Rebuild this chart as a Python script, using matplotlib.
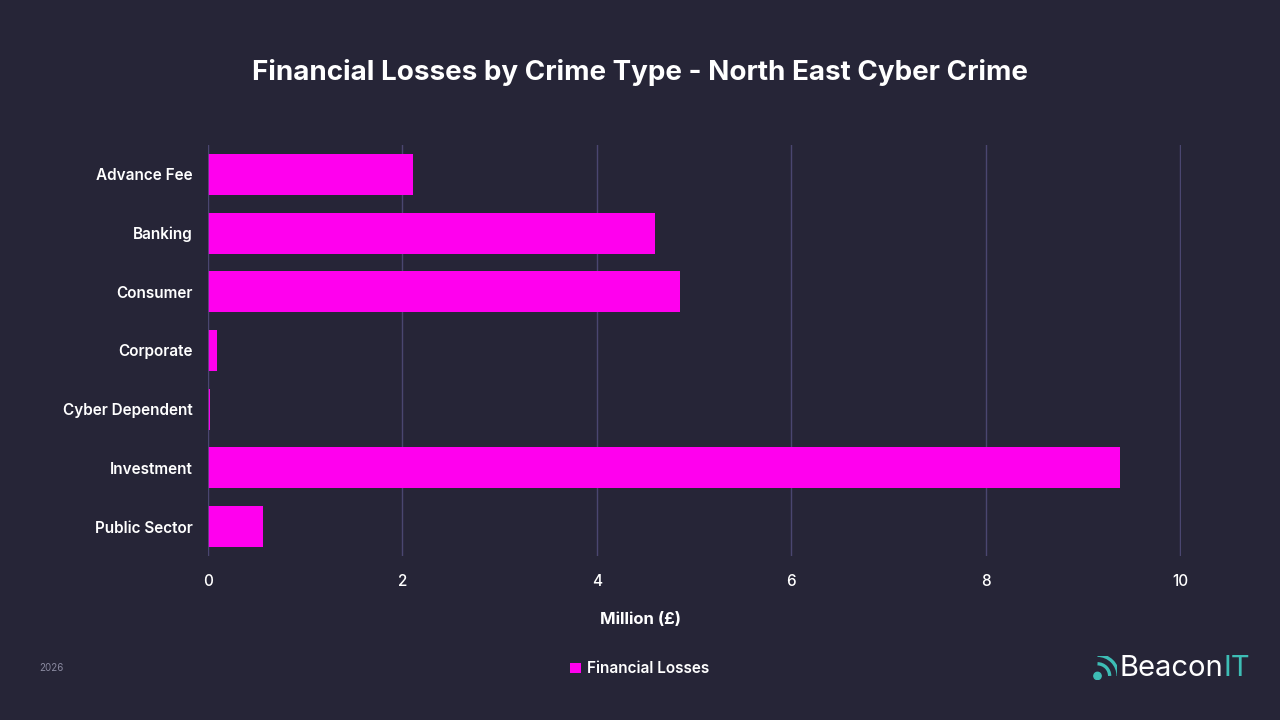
import numpy as np
import matplotlib.pyplot as plt
from matplotlib.patches import Arc, Circle

# DANE
categories = ["Advance Fee", "Banking", "Consumer", "Corporate",
              "Cyber Dependent", "Investment", "Public Sector"]
losses = [2.11, 4.60, 4.86, 0.09, 0.02, 9.38, 0.565]
x_ticks = [0, 2, 4, 6, 8, 10]

BG = "#262537"
MAGENTA = "#ff00ee"
GRID = "#4a4670"
TEAL = "#3dbdb5"

plt.rcParams['font.family'] = ['Inter', 'DejaVu Sans']

fig = plt.figure(figsize=(12.8, 7.2), dpi=100, facecolor=BG)
ax = fig.add_axes([0.1625, 0.2278, 0.9227 - 0.1625, 0.7986 - 0.2278])
ax.set_facecolor(BG)

y = np.arange(len(categories))
ax.barh(y, losses, height=0.7, color=MAGENTA, label="Financial Losses", zorder=3)
ax.set_ylim(len(categories) - 0.5, -0.5)
ax.set_xlim(0, 10.01)
ax.set_yticks(y)
ax.set_yticklabels(categories, fontsize=11, fontweight=600, color='white')
ax.set_xticks(x_ticks)
ax.set_xticklabels([str(t) for t in x_ticks], fontsize=11, fontweight=500, color='white')
ax.tick_params(axis='y', length=0, pad=11)
ax.tick_params(axis='x', length=0, pad=13)

ax.grid(axis='x', color=GRID, linewidth=1, zorder=0)
for s in ax.spines.values():
    s.set_visible(False)
ax.axvline(0, color=GRID, linewidth=1.2, zorder=4)

# opis osi x - wyśrodkowany na całej figurze
fig.text(0.5, 1 - 619 / 720, "Million (£)", ha='center', va='center',
         fontsize=12, fontweight='bold', color='white')

fig.text(0.5, 0.9, "Financial Losses by Crime Type - North East Cyber Crime",
         ha='center', va='center', fontsize=20, fontweight='bold', color='white')

# legenda
leg = fig.legend(loc='center', bbox_to_anchor=(0.5, 0.071), frameon=False,
                 fontsize=11, handlelength=0.7, handleheight=0.7, handletextpad=0.4,
                 labelcolor='white', prop={'weight': 600, 'size': 11})

fig.text(0.031, 0.072, "2026", fontsize=7, color='#8a8aa0', va='center')

# logo
t = fig.text(0.875, 0.072, "Beacon", fontsize=21, color='white', va='center')
ax.annotate("IT", xy=(1, 0), xycoords=t, va='bottom', ha='left',
            fontsize=21, color=TEAL)
icon = fig.add_axes([0.854, 0.055, 0.019, 0.034])
icon.set_xlim(0, 1)
icon.set_ylim(0, 1)
icon.set_aspect('equal')
icon.axis('off')
icon.add_patch(Circle((0.18, 0.18), 0.15, color=TEAL))
for r in (0.5, 0.85):
    icon.add_patch(Arc((0.18, 0.18), 2 * r, 2 * r, theta1=0, theta2=90,
                       color=TEAL, linewidth=2.4))

fig.savefig("out.png", dpi=100, facecolor=BG)
